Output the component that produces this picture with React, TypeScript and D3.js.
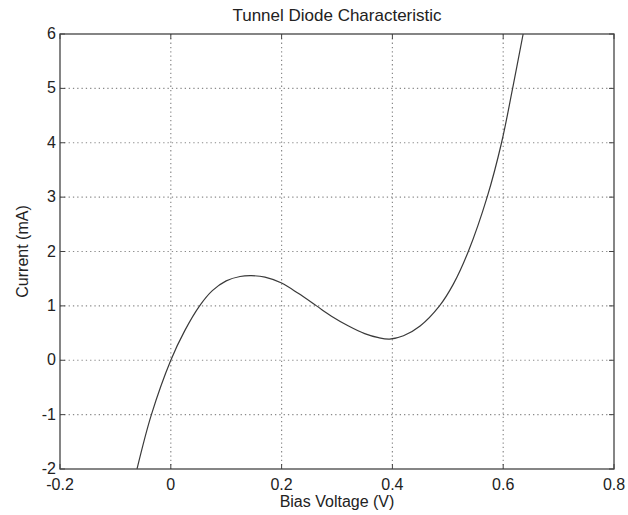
import React from "react";
import * as d3 from "d3";

const biasVoltage = [-0.061, -0.035, 0.0, 0.025, 0.052, 0.075, 0.1, 0.125, 0.145, 0.17, 0.2, 0.23, 0.263, 0.29, 0.32, 0.35, 0.375, 0.395, 0.42, 0.45, 0.485, 0.51, 0.537, 0.571, 0.597, 0.617, 0.636];
const current = [-2.0, -1.0, 0.0, 0.54, 1.0, 1.28, 1.46, 1.54, 1.555, 1.53, 1.42, 1.23, 1.0, 0.81, 0.635, 0.49, 0.415, 0.39, 0.45, 0.63, 1.0, 1.4, 2.0, 3.0, 4.0, 5.0, 6.0];
const xTicks = [-0.2, 0, 0.2, 0.4, 0.6, 0.8];
const xTickLabels = ["-0.2", "0", "0.2", "0.4", "0.6", "0.8"];
const yTicks = [-2, -1, 0, 1, 2, 3, 4, 5, 6];
const yTickLabels = ["-2", "-1", "0", "1", "2", "3", "4", "5", "6"];

const W = 628, H = 515;
const L = 60, R = 614, T = 34, B = 469;
const font = "'Liberation Sans', Arial, sans-serif";

export default function App() {
  const x = d3.scaleLinear().domain([-0.2, 0.8]).range([L, R]);
  const y = d3.scaleLinear().domain([-2, 6]).range([B, T]);
  const pts = biasVoltage.map((v, i) => [v, current[i]] as [number, number]);
  const line = d3.line<[number, number]>().x(d => x(d[0])).y(d => y(d[1])).curve(d3.curveCatmullRom.alpha(0.5));
  const axisColor = "#444";
  const gridColor = "#8a8a8a";
  return (
    <svg width={W} height={H} style={{ position: "absolute", left: 0, top: 0, background: "#fff" }}>
      <defs>
        <clipPath id="plotclip"><rect x={L} y={T} width={R - L} height={B - T} /></clipPath>
      </defs>
      <rect x={0} y={0} width={W} height={H} fill="#fff" />
      {xTicks.slice(1, -1).map((t, i) => (
        <line key={"gx" + i} x1={x(t)} x2={x(t)} y1={T} y2={B} stroke={gridColor} strokeWidth={1.2} strokeDasharray="1.3,3" />
      ))}
      {yTicks.slice(1, -1).map((t, i) => (
        <line key={"gy" + i} x1={L} x2={R} y1={y(t)} y2={y(t)} stroke={gridColor} strokeWidth={1.2} strokeDasharray="1.3,3" />
      ))}
      {xTicks.map((t, i) => (
        <g key={"tx" + i}>
          <line x1={x(t)} x2={x(t)} y1={B} y2={B - 5} stroke={axisColor} />
          <line x1={x(t)} x2={x(t)} y1={T} y2={T + 5} stroke={axisColor} />
          <text x={x(t)} y={490} fontFamily={font} fontSize={16} fill="#222" textAnchor="middle">{xTickLabels[i]}</text>
        </g>
      ))}
      {yTicks.map((t, i) => (
        <g key={"ty" + i}>
          <line x1={L} x2={L + 5} y1={y(t)} y2={y(t)} stroke={axisColor} />
          <line x1={R} x2={R - 5} y1={y(t)} y2={y(t)} stroke={axisColor} />
          <text x={56} y={y(t) + 5} fontFamily={font} fontSize={16} fill="#222" textAnchor="end">{yTickLabels[i]}</text>
        </g>
      ))}
      <path d={line(pts) || ""} fill="none" stroke="#3a3a3a" strokeWidth={1.2} clipPath="url(#plotclip)" />
      <rect x={L} y={T} width={R - L} height={B - T} fill="none" stroke={axisColor} strokeWidth={1.3} />
      <text x={(L + R) / 2} y={21} fontFamily={font} fontSize={17} fill="#222" textAnchor="middle">Tunnel Diode Characteristic</text>
      <text x={(L + R) / 2} y={507} fontFamily={font} fontSize={16} fill="#222" textAnchor="middle">Bias Voltage (V)</text>
      <text transform={`translate(28,${(T + B) / 2}) rotate(-90)`} fontFamily={font} fontSize={16} fill="#222" textAnchor="middle">Current (mA)</text>
    </svg>
  );
}
